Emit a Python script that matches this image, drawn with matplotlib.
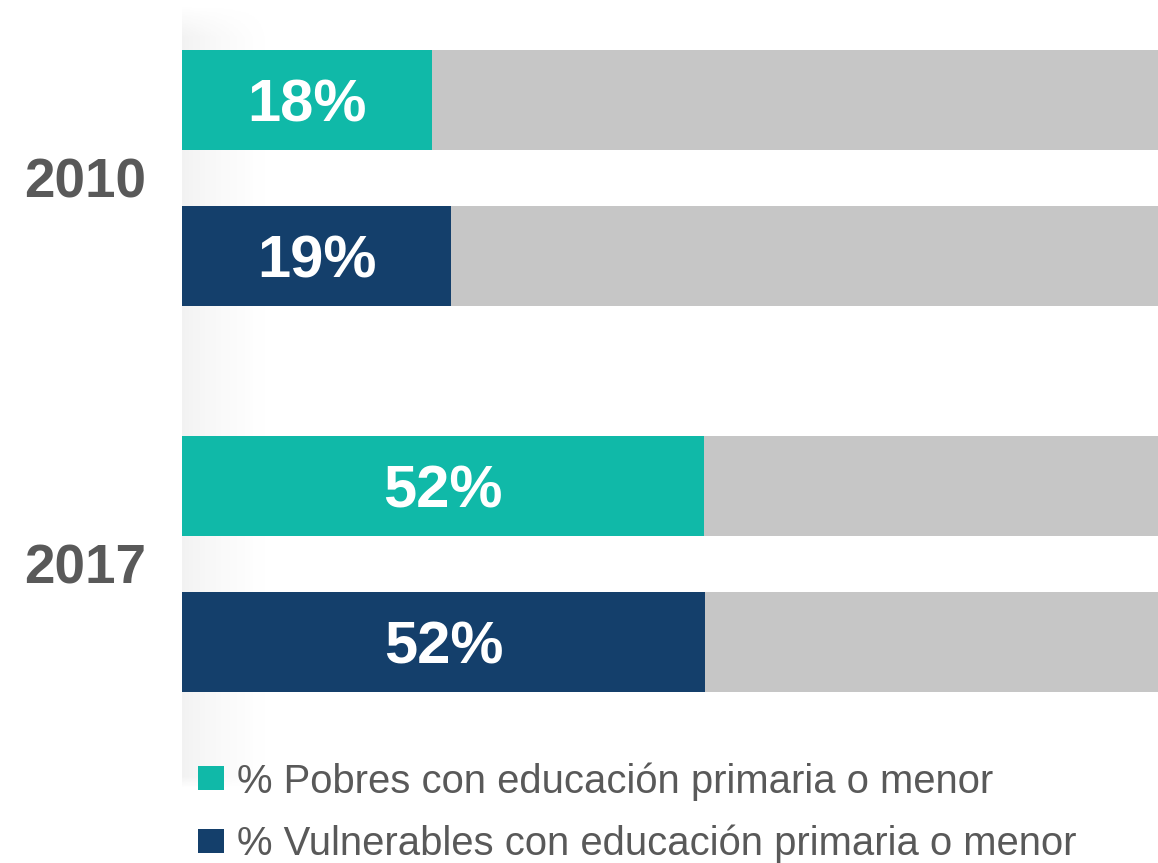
import numpy as np
import matplotlib.pyplot as plt
from matplotlib.patches import Patch

plt.rcParams['font.family'] = ['Liberation Sans', 'DejaVu Sans']

# Data
years = ['2010', '2017']
series = ['% Pobres con educación primaria o menor',
          '% Vulnerables con educación primaria o menor']
# printed labels
pobres_pct = [18, 52]
vulnerables_pct = [19, 52]
# bar lengths as drawn in the picture (share of the full gray bar, %)
pobres_len = [25.6, 53.5]
vulnerables_len = [27.6, 53.6]

teal = '#10b9a8'
navy = '#143f6b'
gray = '#c6c6c6'
text_gray = '#595959'

W, H = 1158, 863
fig = plt.figure(figsize=(W / 100, H / 100), dpi=100)

# soft shadow to the left of the bars
sh = fig.add_axes([182 / W, 1 - 790 / H, 95 / W, 785 / H], zorder=0)
gx = np.linspace(0, 1, 100)
gy = np.linspace(0, 1, 200)
fade_x = (1 - gx) ** 1.6
fade_y = np.clip(np.minimum(gy / 0.04, (1 - gy) / 0.015), 0, 1)
shade = np.outer(fade_y, fade_x) * 0.11
img = np.ones((200, 100, 4))
img[..., :3] = 0.55
img[..., 3] = shade
sh.imshow(img, aspect='auto', extent=(0, 1, 0, 1))
sh.axis('off')

ax = fig.add_axes([182 / W, 0, 1 - 182 / W, 1], zorder=1)
ax.patch.set_alpha(0)

y = np.arange(len(years))
off = 0.202
h = 0.259

for vals, lens, sign, color in [(pobres_pct, pobres_len, -1, teal),
                                (vulnerables_pct, vulnerables_len, 1, navy)]:
    yy = y + sign * off
    ax.barh(yy, [100] * len(y), height=h, color=gray, linewidth=0)
    ax.barh(yy, lens, height=h, color=color, linewidth=0)
    for yi, v, l in zip(yy, vals, lens):
        ax.text(l / 2, yi, f'{v}%', ha='center', va='center_baseline',
                color='white', fontsize=43, fontweight='bold')

ax.set_xlim(0, 100)
ax.set_ylim(1.775, -0.461)
ax.set_yticks(y)
ax.set_yticklabels(years, fontsize=39.5, fontweight='bold', color=text_gray)
ax.tick_params(axis='y', length=0, pad=26)
ax.set_xticks([])
for s in ax.spines.values():
    s.set_visible(False)

handles = [Patch(facecolor=teal), Patch(facecolor=navy)]
leg = fig.legend(handles, series, loc='upper left',
                 bbox_to_anchor=(198 / W, 1 - 762 / H), frameon=False,
                 fontsize=28.8, handlelength=0.65, handleheight=0.55,
                 handletextpad=0.33, labelspacing=0.6, borderpad=0,
                 borderaxespad=0)
for t in leg.get_texts():
    t.set_color(text_gray)

fig.savefig('out.png', dpi=100)
